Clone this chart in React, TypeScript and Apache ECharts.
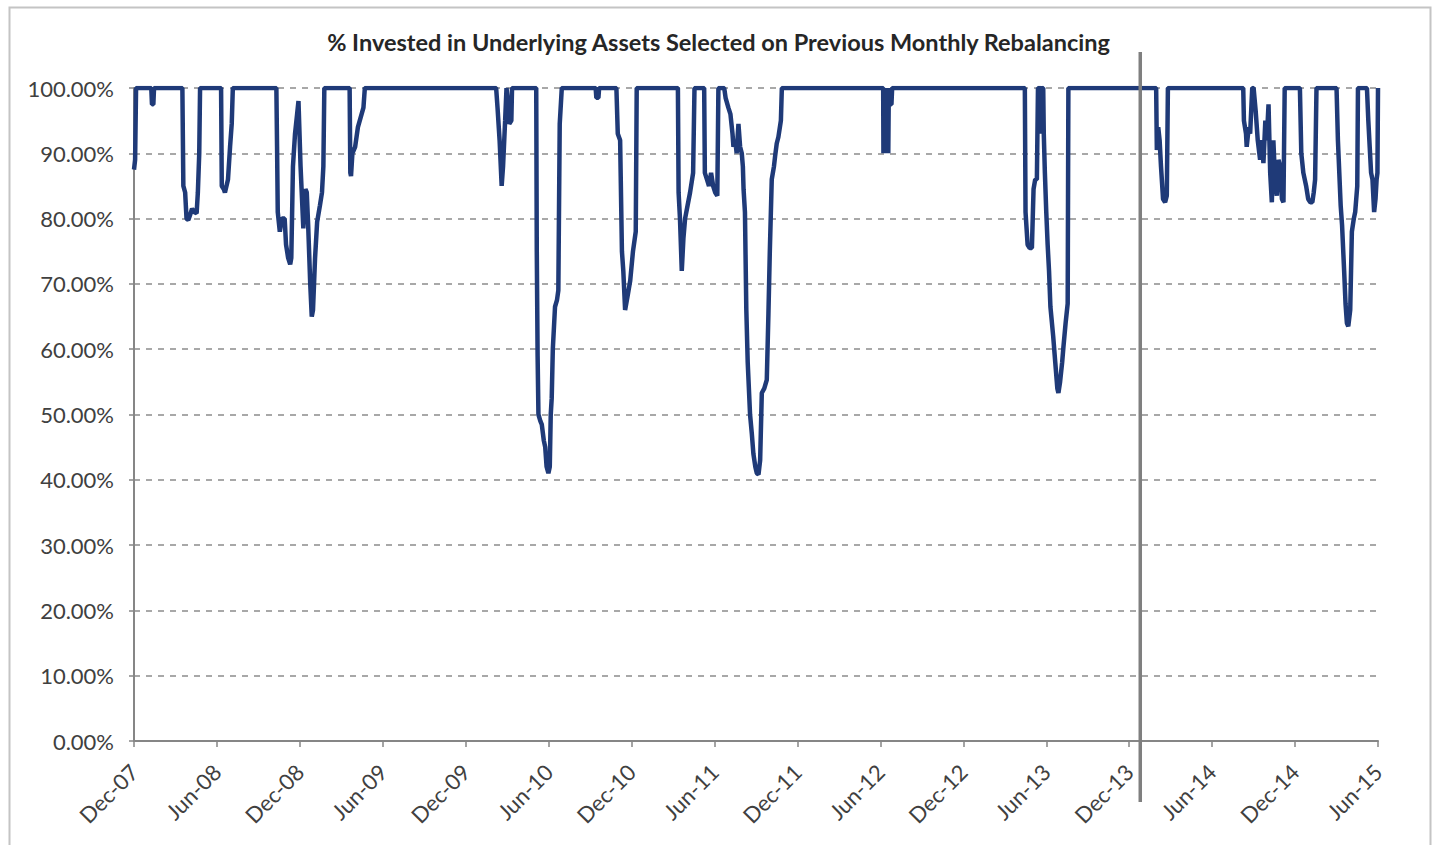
import React, { useEffect, useRef } from "react";
import * as echarts from "echarts";

const chartTitle =
  "% Invested in Underlying Assets Selected on Previous Monthly Rebalancing";

// category labels on the time axis, one every 6 months starting Dec-07
const xTickLabels = [
  "Dec-07", "Jun-08", "Dec-08", "Jun-09", "Dec-09", "Jun-10", "Dec-10", "Jun-11",
  "Dec-11", "Jun-12", "Dec-12", "Jun-13", "Dec-13", "Jun-14", "Dec-14", "Jun-15",
];

// out-of-sample start marker (months since Dec-07)
const outOfSampleStart = 72.8;

// [months since Dec-07, % invested]
const investedPct: [number, number][] = [
  [0, 87.5], [0.08, 89], [0.15, 100],
  [1.25, 100], [1.3, 97.5], [1.4, 97.5], [1.45, 100],
  [3.5, 100], [3.57, 85], [3.7, 84], [3.8, 80], [3.93, 79.8], [4.05, 80.5], [4.2, 81.5],
  [4.35, 81], [4.53, 80.8], [4.62, 84], [4.72, 90], [4.78, 100],
  [6.3, 100], [6.35, 85], [6.5, 84.5], [6.58, 84], [6.8, 86], [6.95, 91], [7.07, 94.5], [7.15, 100],
  [10.3, 100], [10.35, 91], [10.4, 81], [10.55, 78], [10.7, 80], [10.9, 80], [11.0, 76],
  [11.15, 74], [11.3, 73], [11.38, 74], [11.5, 88], [11.65, 93], [11.8, 96], [11.9, 98],
  [12.05, 88], [12.25, 78.5], [12.4, 84.5], [12.5, 84], [12.6, 79], [12.75, 70], [12.86, 65],
  [12.95, 66], [13.1, 74], [13.25, 79.5], [13.45, 82], [13.6, 84], [13.7, 88], [13.77, 100],
  [15.6, 100], [15.65, 87], [15.7, 86.5], [15.8, 90], [16.0, 91], [16.2, 94], [16.4, 95.5],
  [16.6, 97], [16.7, 100],
  [26.2, 100], [26.3, 97], [26.45, 92], [26.6, 85], [26.7, 88], [26.85, 95], [26.95, 100],
  [27.05, 98], [27.15, 94.5], [27.3, 95], [27.35, 100],
  [29.1, 100], [29.14, 75], [29.2, 59], [29.26, 50], [29.4, 49], [29.5, 48.5], [29.65, 46],
  [29.75, 45], [29.85, 42], [29.98, 41], [30.08, 42], [30.15, 50], [30.22, 52.5], [30.3, 60],
  [30.46, 66.5], [30.6, 67.5], [30.7, 69], [30.8, 94.5], [30.95, 100],
  [33.4, 100], [33.45, 98.5], [33.6, 98.5], [33.65, 100],
  [34.9, 100], [35.0, 93], [35.17, 92], [35.3, 75], [35.4, 72], [35.53, 66], [35.7, 68],
  [35.9, 70.5], [36.1, 75], [36.3, 78], [36.37, 100],
  [39.35, 100], [39.4, 84], [39.5, 80], [39.63, 72], [39.75, 77], [39.87, 80], [40.05, 82],
  [40.23, 84], [40.45, 87], [40.55, 100],
  [41.25, 100], [41.3, 87], [41.45, 86], [41.6, 85], [41.75, 87], [41.9, 85], [42.05, 84],
  [42.2, 83.5], [42.28, 100],
  [42.7, 100], [42.8, 98.5], [43.0, 97], [43.15, 96], [43.3, 93], [43.37, 91], [43.5, 92],
  [43.6, 90], [43.73, 94.5], [43.85, 91], [43.97, 90], [44.05, 88], [44.1, 84.5], [44.2, 81],
  [44.3, 66], [44.4, 58], [44.57, 50], [44.7, 47], [44.81, 44], [44.95, 42], [45.06, 41],
  [45.18, 40.8], [45.3, 43], [45.42, 53.3], [45.6, 54], [45.78, 55.3], [45.9, 65.5],
  [46.0, 75], [46.14, 86], [46.3, 88], [46.38, 89.5], [46.5, 91.5], [46.62, 92.5],
  [46.8, 95], [46.87, 100],
  [54.2, 100], [54.22, 90], [54.25, 100], [54.28, 90], [54.31, 100], [54.34, 90], [54.37, 100],
  [54.4, 90], [54.43, 100], [54.46, 90], [54.49, 100], [54.52, 90], [54.55, 100], [54.57, 90],
  [54.6, 97.5], [54.63, 100], [54.66, 97.5], [54.7, 100], [54.74, 97.5], [54.8, 97.5], [54.85, 100],
  [64.45, 100], [64.5, 81], [64.65, 76], [64.8, 75.5], [64.96, 75.5], [65.08, 84.5],
  [65.2, 86], [65.32, 86], [65.4, 100], [65.6, 100], [65.65, 93], [65.7, 100], [65.78, 100],
  [65.82, 93], [65.9, 87], [66.0, 81], [66.1, 76], [66.2, 72], [66.3, 66.5], [66.5, 62],
  [66.65, 58], [66.8, 54], [66.88, 53.3], [67.0, 55], [67.15, 58], [67.24, 60.3],
  [67.4, 64], [67.55, 67], [67.6, 100],
  [73.95, 100], [74.0, 90.5], [74.1, 94], [74.2, 92], [74.3, 88], [74.45, 83], [74.6, 82.5],
  [74.72, 83.5], [74.8, 100],
  [80.25, 100], [80.3, 95], [80.45, 93], [80.5, 91], [80.65, 94], [80.75, 93], [80.9, 100],
  [81.0, 100], [81.15, 96.5], [81.3, 92], [81.47, 89], [81.6, 92], [81.71, 88.5],
  [81.85, 95], [81.95, 92], [82.08, 97.5], [82.2, 87], [82.32, 82.5], [82.43, 92],
  [82.55, 86], [82.68, 83.5], [82.8, 89], [82.92, 88], [83.05, 83], [83.16, 82.5], [83.25, 100],
  [84.35, 100], [84.45, 90], [84.6, 87], [84.8, 85], [84.95, 83], [85.1, 82.5], [85.25, 82.5],
  [85.35, 84], [85.45, 86], [85.55, 100],
  [87.0, 100], [87.1, 92], [87.3, 82], [87.4, 79], [87.55, 72], [87.65, 67], [87.75, 64],
  [87.85, 63.5], [87.99, 66], [88.11, 78], [88.25, 80], [88.35, 81], [88.5, 85], [88.55, 100],
  [89.2, 100], [89.3, 95], [89.4, 91], [89.5, 87], [89.6, 86], [89.72, 81], [89.82, 83],
  [89.9, 86], [89.96, 87], [90, 100],
];

const FONT = "Lato, 'Open Sans', sans-serif";

export default function App() {
  const ref = useRef<HTMLDivElement>(null);

  useEffect(() => {
    if (!ref.current) return;
    const chart = echarts.init(ref.current, null, { renderer: "svg" });
    chart.setOption({
      animation: false,
      backgroundColor: "#ffffff",
      title: {
        text: chartTitle,
        left: "center",
        top: 30,
        padding: 0,
        textStyle: {
          fontFamily: FONT,
          fontWeight: "bold",
          fontSize: 23.5,
          color: "#262626",
        },
      },
      grid: { left: 134, right: 59, top: 88, bottom: 104, containLabel: false },
      xAxis: {
        type: "value",
        min: 0,
        max: 90,
        interval: 6,
        axisLine: { show: true, lineStyle: { color: "#868686", width: 2 } },
        axisTick: { show: true, length: 6, lineStyle: { color: "#868686", width: 1.5 } },
        splitLine: { show: false },
        axisLabel: {
          rotate: 45,
          margin: 27,
          fontFamily: FONT,
          fontSize: 22,
          color: "#404040",
          formatter: (v: number) => xTickLabels[Math.round(v / 6)] ?? "",
        },
      },
      yAxis: {
        type: "value",
        min: 0,
        max: 100,
        interval: 10,
        axisLine: { show: true, lineStyle: { color: "#868686", width: 2 } },
        axisTick: { show: true, length: 5, lineStyle: { color: "#868686", width: 1.5 } },
        splitLine: {
          show: true,
          lineStyle: { color: "#8c8c8c", type: [6, 6], width: 1.5 },
        },
        axisLabel: {
          margin: 20,
          fontFamily: FONT,
          fontSize: 22,
          color: "#404040",
          formatter: (v: number) => v.toFixed(2) + "%",
        },
      },
      series: [
        {
          type: "line",
          data: investedPct,
          symbol: "none",
          lineStyle: { color: "#1f3a78", width: 4.5 },
          z: 3,
        },
      ],
      graphic: [
        {
          type: "rect",
          id: "border",
          silent: true,
          z: -1,
          shape: { x: 9.5, y: 7.5, width: 1421, height: 900 },
          style: { fill: "none", stroke: "#c4c4c4", lineWidth: 2 },
        },
      ],
    });
    const px = chart.convertToPixel({ xAxisIndex: 0 }, outOfSampleStart) as number;
    chart.setOption({
      graphic: [
        {
          type: "line",
          id: "oos",
          silent: true,
          z: 10,
          shape: { x1: px, y1: 52, x2: px, y2: 802 },
          style: { stroke: "#7f7f7f", lineWidth: 3.5 },
        },
      ],
    });
    return () => chart.dispose();
  }, []);

  return (
    <div
      ref={ref}
      style={{ position: "fixed", left: 0, top: 0, width: 1437, height: 845 }}
    />
  );
}
